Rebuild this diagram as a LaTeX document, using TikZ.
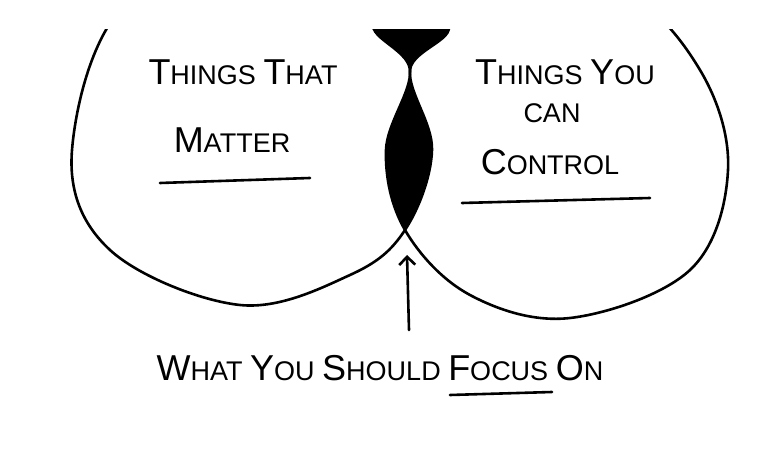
\documentclass[tikz,border=0pt]{standalone}
\usepackage{fontspec}
\usetikzlibrary{arrows.meta}
\setmainfont{Liberation Sans}
\newcommand{\bigc}[1]{{\fontsize{36}{40}\selectfont #1}}
\newcommand{\smc}[1]{{\fontsize{27}{30}\selectfont #1}}
\begin{document}
\begin{tikzpicture}[x=1pt,y=-1pt,
  line/.style={line width=2.6pt,line cap=round},
  lbl/.style={align=center,inner sep=0pt,font=\fontsize{27}{30}\selectfont}]
\useasboundingbox (0,0) rectangle (774,454);
\def\leftshape{plot[smooth cycle,tension=0.6] coordinates {(72,150) (110,250) (240,305) (350,275) (405,230) (432,150) (410,70) (445,20) (300,-40) (130,0)}}
\def\rightshape{plot[smooth cycle,tension=0.6] coordinates {(375,20) (410,70) (386,150) (405,230) (470,295) (570,318) (690,270) (728,170) (700,70) (620,-10) (480,-30)}}
\begin{scope}
\clip (0,30) rectangle (774,454);
\begin{scope}
\clip \leftshape;
\fill \rightshape;
\end{scope}
\draw[line] \leftshape;
\draw[line] \rightshape;
\end{scope}
\node[lbl] (tm1) at (243,72) {\bigc{T}\smc{HINGS} \bigc{T}\smc{HAT}};
\node[lbl] (tm2) at (232,140) {\bigc{M}\smc{ATTER}};
\draw[line] (160,183) -- (310,178);
\node[lbl] (tc1) at (565,72) {\bigc{T}\smc{HINGS} \bigc{Y}\smc{OU}};
\node[lbl] (tc2) at (552,113) {\smc{CAN}};
\node[lbl] (tc3) at (550,162) {\bigc{C}\smc{ONTROL}};
\draw[line] (462,203) -- (650,198);
\node[lbl] (bot) at (380,368) {\bigc{W}\smc{HAT} \bigc{Y}\smc{OU} \bigc{S}\smc{HOULD} \bigc{F}\smc{OCUS} \bigc{O}\smc{N}};
\draw[line] (450,395) -- (552,392);
\coordinate (tip) at (407,255);
\coordinate (tail) at (409,330);
\draw[line,-{Straight Barb[length=8pt]}] (tail) -- (tip);
\end{tikzpicture}
\end{document}
